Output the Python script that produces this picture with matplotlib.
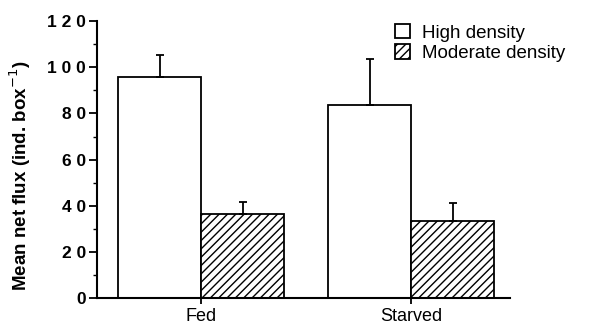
import numpy as np
import matplotlib.pyplot as plt

plt.rcParams['font.family'] = ['Liberation Sans', 'DejaVu Sans']
plt.rcParams['hatch.linewidth'] = 1.0

groups = ["Fed", "Starved"]
high = [96, 83.5]
high_err = [9.5, 20]
moderate = [36.5, 33.5]
moderate_err = [5, 7.5]

fig = plt.figure(figsize=(5.93, 3.25), dpi=100)
ax = fig.add_axes([0.1636, 0.083, 0.697, 0.852])

x = np.arange(len(groups))
w = 0.395
ax.bar(x - w/2, high, w, color='white', edgecolor='black', linewidth=1.3,
       label='High density')
ax.bar(x + w/2, moderate, w, color='white', edgecolor='black', linewidth=1.3,
       hatch='////', label='Moderate density')
ax.errorbar(x - w/2, high, yerr=[np.zeros(2), high_err], fmt='none',
            ecolor='black', elinewidth=1.3, capsize=3, capthick=1.3)
ax.errorbar(x + w/2, moderate, yerr=[np.zeros(2), moderate_err], fmt='none',
            ecolor='black', elinewidth=1.3, capsize=3, capthick=1.3)

ax.set_xlim(-0.495, 1.471)
ax.set_ylim(0, 120)
ax.set_xticks(x)
ax.set_xticklabels(groups, fontsize=13)
ax.set_yticks(np.arange(0, 121, 20))
ax.set_yticklabels(['0', '2 0', '4 0', '6 0', '8 0', '1 0 0', '1 2 0'],
                   fontsize=12.5, fontweight='bold')
ax.set_yticks(np.arange(10, 120, 20), minor=True)
ax.tick_params(axis='y', which='major', length=6, width=1.3, pad=2)
ax.tick_params(axis='y', which='minor', length=3, width=1.0)
ax.tick_params(axis='x', length=4, width=1.3)
for s in ['top', 'right']:
    ax.spines[s].set_visible(False)
for s in ['left', 'bottom']:
    ax.spines[s].set_linewidth(1.5)
ax.set_ylabel('Mean net flux (ind. box$^{-1}$)', fontsize=13.5, fontweight='bold')
ax.yaxis.set_label_coords(-0.155, 0.44)

ax.legend(loc='upper left', bbox_to_anchor=(0.722, 0.99), frameon=False,
          fontsize=13.5, handlelength=0.8, handleheight=0.8, handletextpad=0.6,
          labelspacing=0.15, borderaxespad=0, borderpad=0)

fig.savefig('out.png', dpi=100)
